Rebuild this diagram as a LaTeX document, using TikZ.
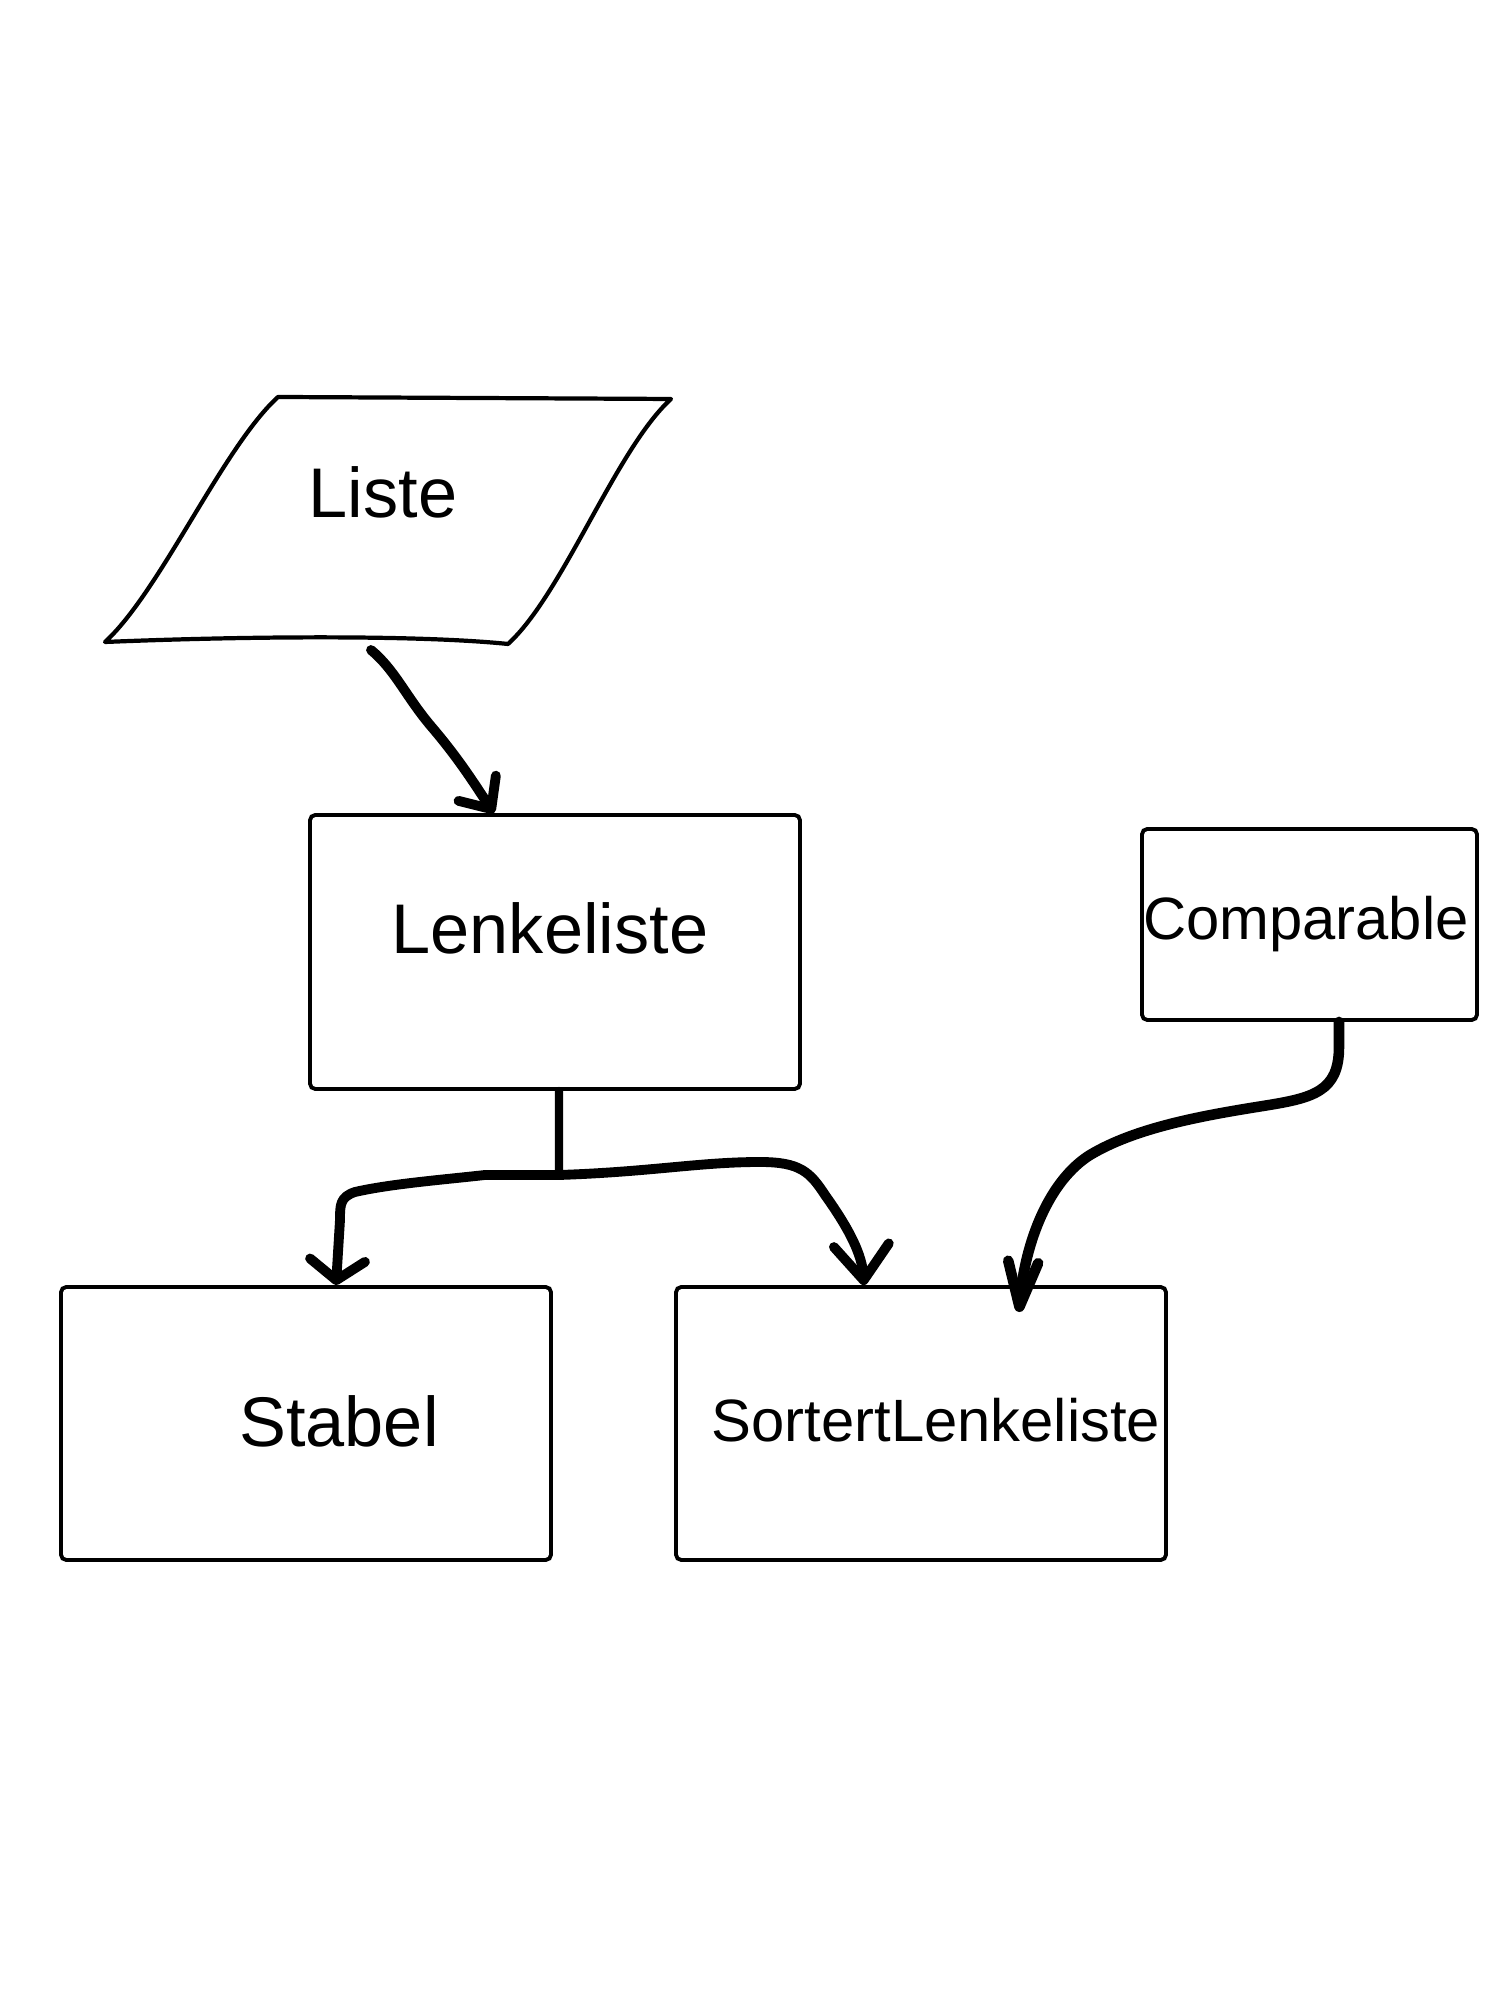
\documentclass[tikz,border=0pt]{standalone}
\usepackage{fontspec}
\setmainfont{Liberation Sans}
\usetikzlibrary{arrows.meta,positioning}
\tikzset{
 klasse/.style={draw, rounded corners=1.5pt, line width=1.1pt, inner sep=0pt},
 navn/.style={font=\fontsize{20}{24}\selectfont, inner sep=0pt, text depth=0pt},
 lite/.style={font=\fontsize{17}{20}\selectfont, inner sep=0pt, text depth=0pt},
 pil/.style={line width=2.8pt, line cap=round, line join=round}
}

\begin{document}
\begin{tikzpicture}

\useasboundingbox (0,0) rectangle (15,20);

\coordinate (listeA) at (1.05,13.58);
\coordinate (listeB) at (5.08,13.56);
\coordinate (listeC) at (6.71,16.01);
\coordinate (listeD) at (2.78,16.03);
\draw[line width=1.2pt, line join=round] (listeA) .. controls (2.5,13.64) and (4.2,13.65) .. (listeB)
  .. controls (5.63,14.06) and (6.16,15.51) .. (listeC) -- (listeD)
  .. controls (2.23,15.53) and (1.60,14.08) .. cycle;
\path (3.83,15.08) node[navn,name=liste] {Liste};
\coordinate (listeUt) at (3.71,13.50);

\path (5.55,10.48) node[klasse,minimum width=4.9cm,minimum height=2.74cm,name=lenkeliste] {};
\path (lenkeliste)+(-0.05,0.24) node[navn,name=lenkelisteT] {Lenkeliste};

\path (13.095,10.755) node[klasse,minimum width=3.35cm,minimum height=1.91cm,name=comparable] {};
\path (comparable)+(-0.035,0.065) node[lite,name=comparableT] {Comparable};

\path (3.06,5.765) node[klasse,minimum width=4.9cm,minimum height=2.73cm,name=stabel] {};
\path (stabel)+(0.33,0.025) node[navn,name=stabelT] {Stabel};

\path (9.21,5.765) node[klasse,minimum width=4.9cm,minimum height=2.73cm,name=sortert] {};
\path (sortert)+(0.15,0.035) node[lite,name=sortertT] {SortertLenkeliste};

\draw[pil,-{Straight Barb[round,length=2.5mm,width=4.5mm]}] (listeUt)
  .. controls (3.95,13.30) and (4.05,13.05) .. (4.30,12.75)
  .. controls (4.60,12.40) and (4.75,12.15) .. ([xshift=-6.1mm]lenkeliste.north);

\coordinate (gren) at (5.59,8.25);
\draw[pil,line width=2.3pt] ([xshift=0.4mm]lenkeliste.south) -- (gren);

\draw[pil,-{Straight Barb[round,length=2mm,width=5.5mm]}] (gren)
  -- (4.85,8.25) .. controls (4.4,8.20) and (3.9,8.16) .. (3.55,8.08)
  .. controls (3.40,8.03) and (3.40,7.95) .. (3.40,7.8) -- ([xshift=3mm]stabel.north);

\draw[pil,-{Straight Barb[round,length=3.5mm,width=5.5mm]}] (gren)
  .. controls (6.5,8.28) and (7.0,8.38) .. (7.6,8.38)
  .. controls (8.0,8.38) and (8.1,8.28) .. (8.25,8.05)
  .. controls (8.5,7.7) and (8.62,7.45) .. ([xshift=-5.7mm]sortert.north);

\draw[pil,line width=3pt,-{Straight Barb[round,length=4.5mm,width=3mm]}] ([xshift=2.95mm]comparable.south)
  -- ++(0,-0.25) .. controls +(0,-0.45) and +(0.5,0.08) .. (12.63,8.94)
  .. controls (12.0,8.84) and (11.35,8.72) .. (10.9,8.45)
  .. controls (10.5,8.2) and (10.25,7.6) .. ([xshift=9.8mm,yshift=-2.7mm]sortert.north);
\end{tikzpicture}
\end{document}
